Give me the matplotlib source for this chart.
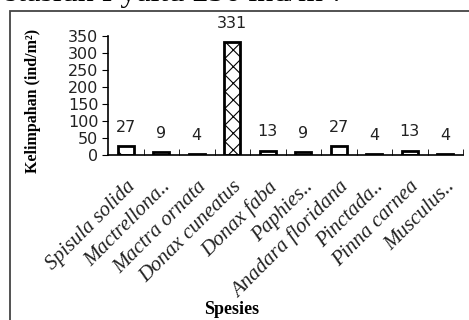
import matplotlib.pyplot as plt
from matplotlib.patches import Rectangle
from numpy import arange

spesies = [
    "Spisula solida",
    "Mactrellona..",
    "Mactra ornata",
    "Donax cuneatus",
    "Donax faba",
    "Paphies..",
    "Anadara floridana",
    "Pinctada..",
    "Pinna carnea",
    "Musculus..",
]
kelimpahan = [27, 9, 4, 331, 13, 9, 27, 4, 13, 4]
motif = ["\\", "", "", "xx", "-", "", "\\", "", "-", ""]
y_ticks = [0, 50, 100, 150, 200, 250, 300, 350]

W, H = 469, 320
fig = plt.figure(figsize=(W / 100, H / 100), dpi=100)
plt.rcParams["hatch.linewidth"] = 0.8

# cadre du graphique (coupé à droite et en bas comme sur la capture)
fig.patches.append(
    Rectangle(
        (10 / W, -0.1), 1.2, 1.1 - 11 / H,
        transform=fig.transFigure, fill=False, edgecolor="#444444", linewidth=1.3
    )
)
# fin de la phrase au-dessus, coupée
fig.text(
    5 / W, 1 - 1.5 / H, "stasiun I yaitu 256 ind/m².",
    family="Liberation Serif", fontsize=23, va="baseline", ha="left"
)

ax = fig.add_axes([108 / W, 1 - 155 / H, (463 - 108) / W, (155 - 36) / H])
x = arange(len(spesies))
bars = ax.bar(x, kelimpahan, width=0.45, color="white", edgecolor="black", linewidth=2)
for b, h in zip(bars, motif):
    b.set_hatch(h)
for xi, v in zip(x, kelimpahan):
    ax.annotate(
        str(v), (xi, v), xytext=(0, 8), textcoords="offset points",
        ha="center", va="bottom", fontsize=11.5, color="#222222"
    )

ax.set_xlim(-0.5, len(spesies) - 0.5)
ax.set_ylim(0, 350)
ax.set_yticks(y_ticks)
ax.tick_params(axis="y", direction="out", length=4, labelsize=11.5, pad=3, labelcolor="#222222")
ax.set_xticks(x)
ax.set_xticklabels(
    spesies, rotation=45, ha="right", rotation_mode="anchor",
    family="Liberation Serif", style="italic", fontsize=15, color="#222222"
)
ax.tick_params(axis="x", length=0, pad=16)
ax.set_xticks(arange(0.5, len(spesies)), minor=True)
ax.tick_params(axis="x", which="minor", direction="in", length=4)
for s in ["top", "right"]:
    ax.spines[s].set_visible(False)
ax.spines["left"].set_linewidth(1.2)
ax.spines["bottom"].set_linewidth(1.2)

fig.text(
    33 / W, 1 - 101 / H, "Kelimpahan (ind/m²)", family="Liberation Serif",
    fontweight="bold", fontsize=11.5, rotation=90, ha="center", va="center"
)
fig.text(
    232 / W, 1 - 310 / H, "Spesies", family="Liberation Serif",
    fontweight="bold", fontsize=13, ha="center", va="center"
)

fig.savefig("out.png", dpi=100)
